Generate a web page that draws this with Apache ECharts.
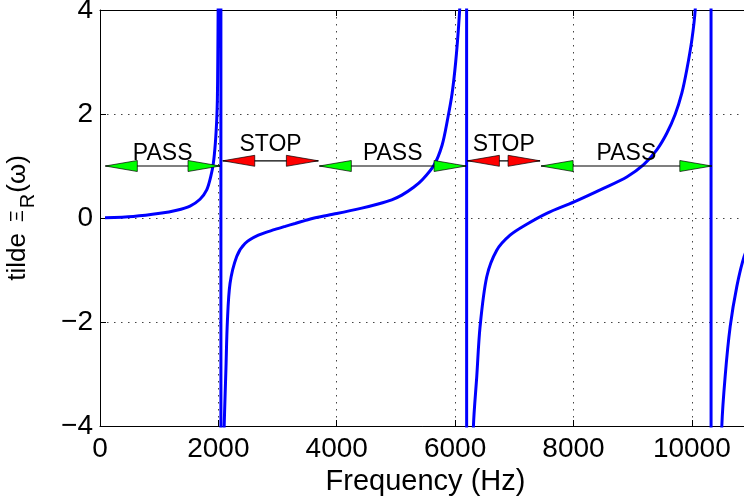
<!DOCTYPE html>
<html>
<head>
<meta charset="utf-8">
<script src="https://cdn.jsdelivr.net/npm/echarts@6/dist/echarts.min.js"></script>
<style>html,body{margin:0;padding:0;background:#fff}#c{width:744px;height:502px}</style>
</head>
<body>
<div id="c"></div>
<script>
// Frequency response curve (Hz, value)
const freqHz = [85,563,1014,1296,1521,1690,1803,1870,1915,1949,1972,1983,1990,1997,2010,2040,
  2046,2070,2084,2129,2152,2197,2310,2450,2676,2958,3130,3296,3460,3620,4000,4423,4700,4930,5100,5300,5450,5645,5780,5870,5950,6010,6060,6090,6130,6190,
  6200,6280,6310,6366,6422,6535,6704,6929,7211,7549,8011,8506,8901,9182,9408,9577,9718,9831,9915,10000,10057,10150,10320,
  10330,10470,10507,10563,10648,10760,10884,11000];
const xiValue = [0.006,0.03,0.09,0.15,0.23,0.36,0.54,0.79,1.05,1.44,1.88,2.27,3.0,4.2,8,80,
  -80,-6,-4.6,-2.86,-2.0,-1.26,-0.74,-0.49,-0.33,-0.22,-0.16,-0.105,-0.05,0.0,0.085,0.19,0.27,0.35,0.44,0.59,0.74,1.02,1.4,1.88,2.4,3.0,3.7,4.3,6,80,
  -80,-6,-4.0,-3.05,-2.09,-1.13,-0.62,-0.33,-0.12,0.09,0.31,0.57,0.79,1.02,1.31,1.63,1.99,2.40,2.85,3.42,4.0,6,80,
  -80,-6,-4.0,-3.05,-2.09,-1.32,-0.74,-0.45];

// Pass / stop band arrows
const bandStart = [90, 2074, 3706, 6208, 7453];
const bandEnd   = [2028, 3690, 6186, 7436, 10338];
const bandLevel = [1.0, 1.1, 1.0, 1.1, 1.0];
const bandLabel = ['PASS', 'STOP', 'PASS', 'STOP', 'PASS'];

// Axis ticks
const xTicks = [0, 2000, 4000, 6000, 8000, 10000];
const yTicks = [-4, -2, 0, 2, 4];

const FONT = 'Liberation Sans, Arial, Helvetica, sans-serif';
const chart = echarts.init(document.getElementById('c'), null, {renderer: 'canvas'});

const curve = freqHz.map((f, i) => [f, xiValue[i]]);
const bands = bandStart.map((s, i) => [s, bandEnd[i], bandLevel[i], i]);

const gridDots = {show: true, lineStyle: {color: '#444', type: [1.5, 5.5], width: 1}};

chart.setOption({
  animation: false,
  backgroundColor: '#fff',
  grid: {left: 100, top: 10, right: -7, bottom: 76, containLabel: false, outerBoundsMode: 'none'},
  xAxis: [{
    type: 'value', min: 0, max: 11000, interval: 2000,
    name: 'Frequency (Hz)', nameLocation: 'middle', nameGap: 36,
    nameTextStyle: {fontFamily: FONT, fontSize: 29, color: '#000'},
    axisLine: {show: true, onZero: false, lineStyle: {color: '#000', width: 1}},
    axisTick: {show: true, inside: true, length: 6, lineStyle: {color: '#000'}},
    axisLabel: {fontFamily: FONT, fontSize: 28, color: '#000', margin: 9,
      formatter: v => xTicks.includes(v) ? String(v) : ''},
    splitLine: gridDots
  }, {
    type: 'value', min: 0, max: 11000, interval: 2000, position: 'top',
    axisLine: {show: true, onZero: false, lineStyle: {color: '#000', width: 1}},
    axisTick: {show: true, inside: true, length: 6, lineStyle: {color: '#000'}},
    axisLabel: {show: false}, splitLine: {show: false}
  }],
  yAxis: [{
    type: 'value', min: -4, max: 4, interval: 2,
    name: '{a|tilde }{b|Ξ}{c|R}{a|(ω)}', nameLocation: 'middle', nameGap: 62, nameRotate: 90,
    nameTextStyle: {
      fontFamily: FONT, color: '#000', padding: [0, 0, 0, 0],
      rich: {
        a: {fontFamily: FONT, fontSize: 26, color: '#000', lineHeight: 40, verticalAlign: 'middle'},
        b: {fontFamily: FONT, fontSize: 18, color: '#000', lineHeight: 40, verticalAlign: 'middle', padding: [0, 2, 0, 4]},
        c: {fontFamily: FONT, fontSize: 20, color: '#000', lineHeight: 40, verticalAlign: 'bottom', padding: [0, 1, 0, 0]}
      }
    },
    axisLine: {show: true, onZero: false, lineStyle: {color: '#000', width: 1}},
    axisTick: {show: true, inside: true, length: 6, lineStyle: {color: '#000'}},
    axisLabel: {fontFamily: FONT, fontSize: 28, color: '#000', margin: 7,
      formatter: v => yTicks.includes(v) ? String(v).replace('-', '\u2212') : ''},
    splitLine: gridDots
  }],
  series: [{
    type: 'line', data: curve, showSymbol: false, symbol: 'none', clip: true,
    smooth: 0.3,
    lineStyle: {color: '#0000ff', width: 3}, z: 3
  }, {
    type: 'custom', data: bands, z: 5, clip: false,
    renderItem: function (params, api) {
      const idx = api.value(3);
      const lab = bandLabel[idx];
      const s = api.coord([api.value(0), api.value(2)]);
      const e = api.coord([api.value(1), api.value(2)]);
      const y = s[1];
      const L = 32, H = 5.5;
      const fill = lab === 'PASS' ? '#00ff00' : '#ff0000';
      const head = {stroke: '#000', lineWidth: 0.7, fill: fill};
      return {
        type: 'group',
        children: [
          {type: 'line', shape: {x1: s[0], y1: y, x2: e[0], y2: y}, style: {stroke: '#000', lineWidth: 1.2}},
          {type: 'polygon', shape: {points: [[s[0], y], [s[0] + L, y - H], [s[0] + L, y + H]]}, style: head},
          {type: 'polygon', shape: {points: [[e[0], y], [e[0] - L, y - H], [e[0] - L, y + H]]}, style: head},
          {type: 'text', style: {
            text: lab, x: (s[0] + e[0]) / 2, y: y - (lab === 'PASS' ? 12 : 16),
            align: 'center', verticalAlign: 'middle',
            font: '23px ' + FONT, fill: '#000'
          }}
        ]
      };
    }
  }]
});
</script>
</body>
</html>
